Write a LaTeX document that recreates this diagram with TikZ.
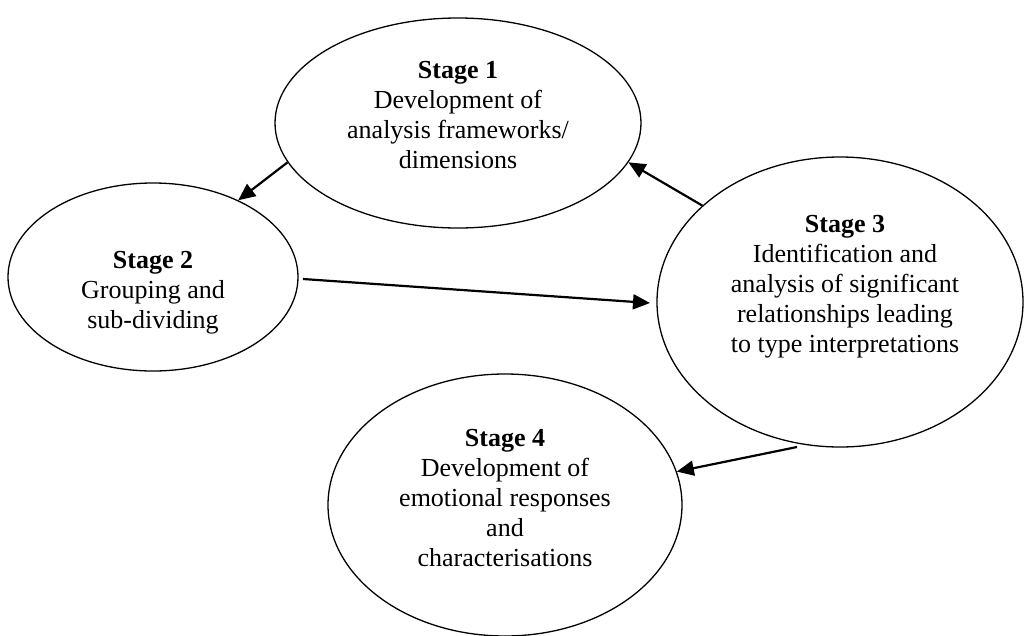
\documentclass[tikz,border=0pt]{standalone}
\usepackage{fontspec}
\setmainfont{Liberation Serif}
\usetikzlibrary{shapes.geometric,arrows.meta}
\begin{document}
\begin{tikzpicture}[x=1pt,y=-1pt,
  stagebox/.style={ellipse,draw=black,line width=1.3pt,inner sep=0pt},
  stagetext/.style={anchor=north,align=center,inner sep=0pt,font=\fontsize{26}{30}\selectfont},
  arr/.style={line width=2.2pt,-{Triangle[length=17pt,width=15pt]}}]
\useasboundingbox (0,0) rectangle (1028,635);
\node[stagebox,minimum width=366pt,minimum height=210pt] (s1) at (458,123) {};
\node[stagebox,minimum width=290pt,minimum height=188pt] (s2) at (153,277) {};
\node[stagebox,minimum width=366pt,minimum height=290pt] (s3) at (840,302) {};
\node[stagebox,minimum width=354pt,minimum height=262pt] (s4) at (505,505) {};
\node[stagetext] (t1) at (458,61) {\textbf{Stage 1}\\Development of\\analysis frameworks/\\dimensions};
\node[stagetext] (t2) at (153,251) {\textbf{Stage 2}\\Grouping and\\sub-dividing};
\node[stagetext] (t3) at (845,215) {\textbf{Stage 3}\\Identification and\\analysis of significant\\relationships leading\\to type interpretations};
\node[stagetext] (t4) at (505,429) {\textbf{Stage 4}\\Development of\\emotional responses\\and\\characterisations};
\coordinate (a2s) at (303,279);
\coordinate (a2e) at (650,303);
\coordinate (a4s) at (797,447);
\draw[arr] (s1.193) -- (s2.42);
\draw[arr] (a2s) -- (a2e);
\draw[arr] (s3.145) -- (s1.-13);
\draw[arr] (a4s) -- (s4.11);
\end{tikzpicture}
\end{document}
